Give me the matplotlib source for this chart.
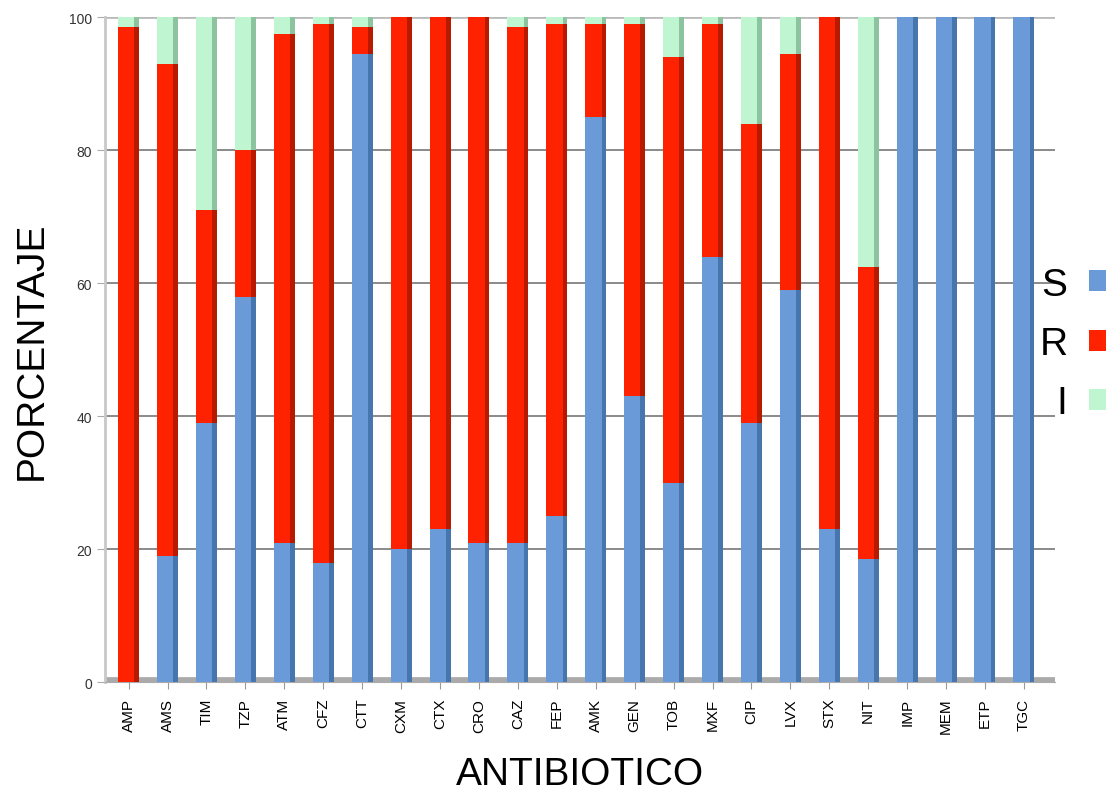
import matplotlib.pyplot as plt
import numpy as np

plt.rcParams['font.family'] = ['Liberation Sans', 'DejaVu Sans']

# Data (percent)
antibioticos = ['AMP', 'AMS', 'TIM', 'TZP', 'ATM', 'CFZ', 'CTT', 'CXM', 'CTX', 'CRO',
                'CAZ', 'FEP', 'AMK', 'GEN', 'TOB', 'MXF', 'CIP', 'LVX', 'STX', 'NIT',
                'IMP', 'MEM', 'ETP', 'TGC']
sensible = [0, 19, 39, 58, 21, 18, 94.5, 20, 23, 21,
            21, 25, 85, 43, 30, 64, 39, 59, 23, 18.5,
            100, 100, 100, 100]
resistente = [98.5, 74, 32, 22, 76.5, 81, 4, 80, 77, 79,
              77.5, 74, 14, 56, 64, 35, 45, 35.5, 77, 44,
              0, 0, 0, 0]
intermedio = [1.5, 7, 29, 20, 2.5, 1, 1.5, 0, 0, 0,
              1.5, 1, 1, 1, 6, 1, 16, 5.5, 0, 37.5,
              0, 0, 0, 0]

colores = {'S': '#6a9bd8', 'R': '#ff2200', 'I': '#c0f5d2'}
lados = {'S': '#4676ad', 'R': '#b81a00', 'I': '#8cc4a0'}

fig = plt.figure(figsize=(11.2, 8.04), dpi=100)
ax = fig.add_axes([0.094, 0.150, 0.848, 0.827])

x = np.arange(len(antibioticos))
s = np.array(sensible)
r = np.array(resistente)
i = np.array(intermedio)

w = 0.42
side = 0.12
series = [('S', s, np.zeros_like(s)), ('R', r, s), ('I', i, s + r)]
handles = []
for key, vals, base in series:
    h = ax.bar(x - side / 2, vals, w, bottom=base, color=colores[key], lw=0, zorder=3, label=key)
    # darker side face for the pseudo-3D look
    ax.bar(x + w / 2, vals, side, bottom=base, color=lados[key], lw=0, zorder=3)
    handles.append(h)

ax.set_xlim(-0.6, len(antibioticos) - 0.2)
ax.set_ylim(0, 100)
ax.set_yticks([0, 20, 40, 60, 80, 100])
ax.set_xticks(x)
ax.set_xticklabels(antibioticos, rotation=90, fontsize=11)
ax.tick_params(axis='y', labelsize=10, labelcolor='#333333', color='#aaaaaa', length=6)
ax.tick_params(axis='x', color='#999999', length=5, pad=6)

for yv in [20, 40, 60, 80]:
    ax.axhline(yv, color='#777777', lw=1.2, zorder=1)
ax.axhline(100, color='#bbbbbb', lw=2, zorder=1)
ax.axhline(0, color='#aaaaaa', lw=7, zorder=2)

for sp in ['top', 'right']:
    ax.spines[sp].set_visible(False)
ax.spines['left'].set_color('#c8c8c8')
ax.spines['left'].set_linewidth(2)
ax.spines['bottom'].set_color('#aaaaaa')

ax.set_ylabel('PORCENTAJE', fontsize=28, labelpad=14)
ax.set_xlabel('ANTIBIOTICO', fontsize=28, labelpad=16)

ax.legend(handles=handles, labels=['S', 'R', 'I'], loc='center left',
          bbox_to_anchor=(0.928, 0.571), bbox_transform=fig.transFigure,
          markerfirst=False, frameon=False, fontsize=28, borderpad=0, borderaxespad=0,
          handlelength=0.45, handleheight=0.45, handletextpad=0.55, labelspacing=0.6)

plt.savefig('out.png', dpi=100)
plt.close()
